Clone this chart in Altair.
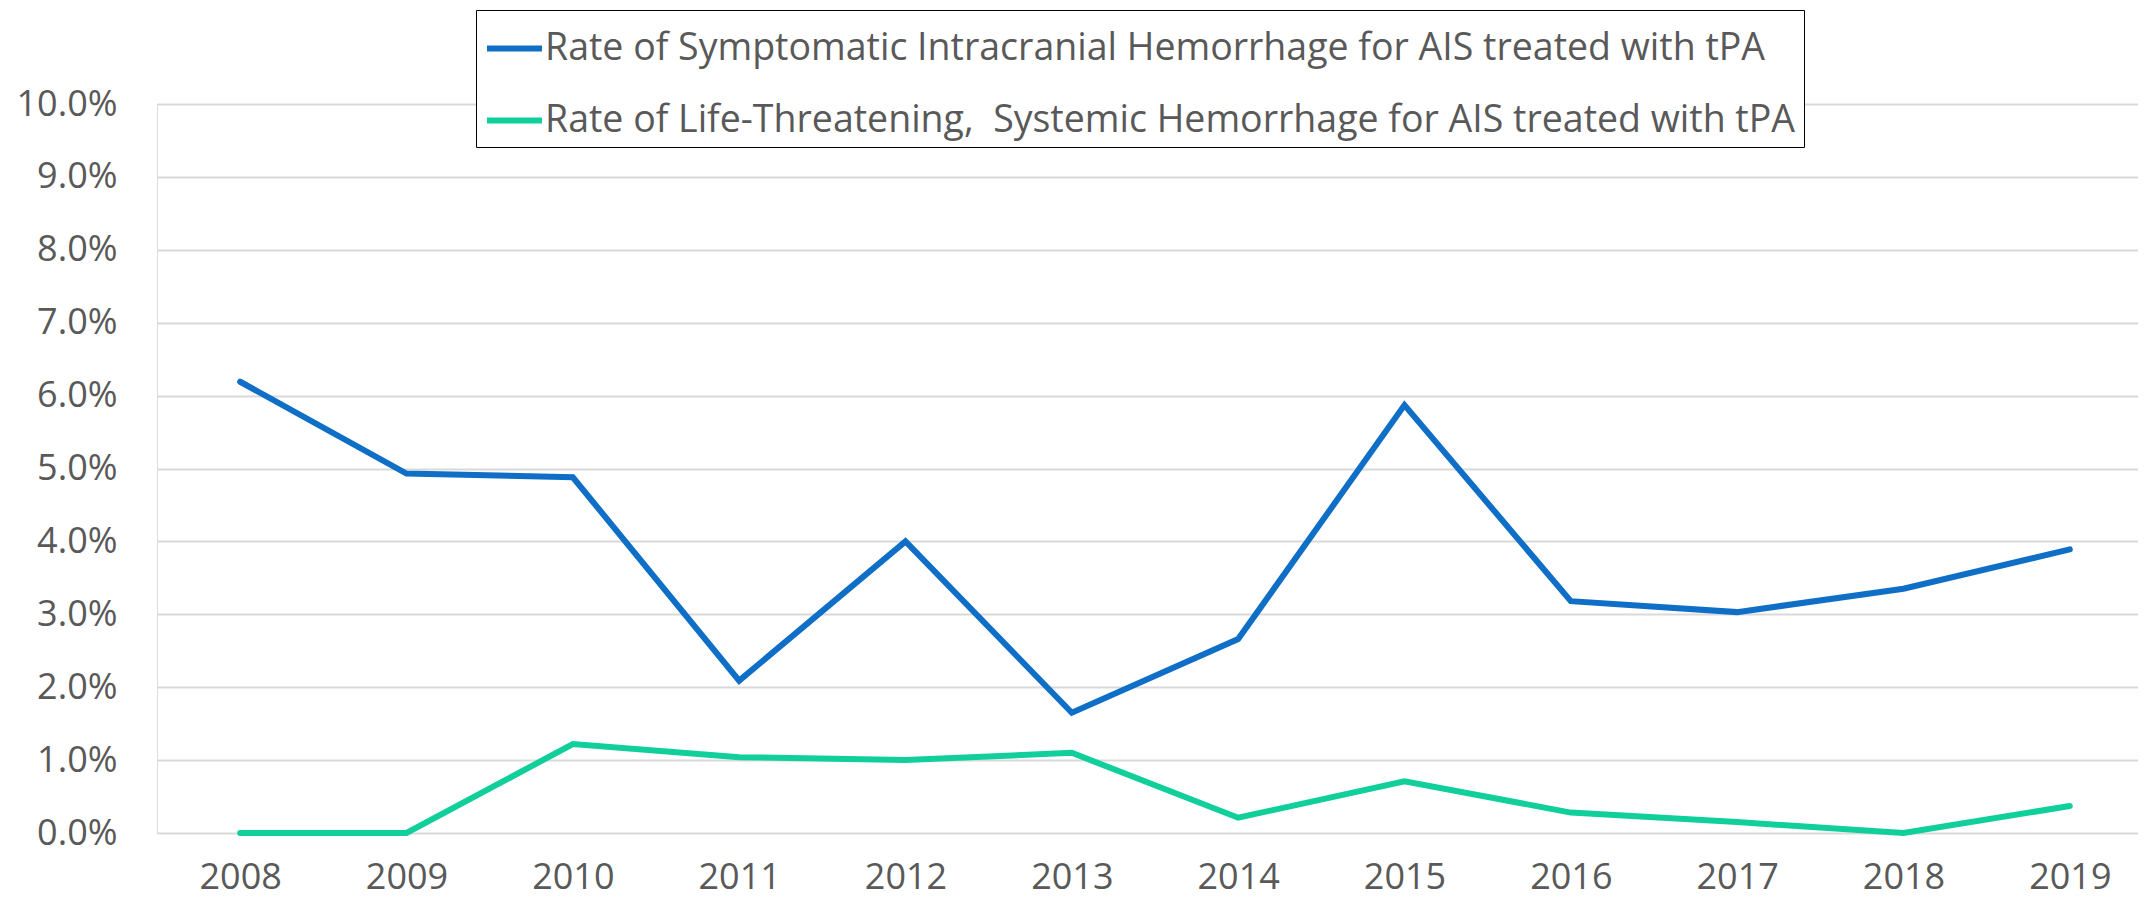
import altair as alt
import pandas as pd

years = list(range(2008, 2020))
series_names = [
    "Rate of Symptomatic Intracranial Hemorrhage for AIS treated with tPA",
    "Rate of Life-Threatening,\u00a0 Systemic Hemorrhage for AIS treated with tPA",
]
sich_pct = [6.19, 4.93, 4.88, 2.09, 4.00, 1.65, 2.66, 5.87, 3.18, 3.03, 3.35, 3.89]
systemic_pct = [0.00, 0.00, 1.22, 1.04, 1.00, 1.10, 0.21, 0.71, 0.28, 0.15, 0.00, 0.37]
colors = ["#0F6FC6", "#10CF9B"]
y_ticks = [i / 100 for i in range(0, 11)]

rows = []
for name, vals in zip(series_names, [sich_pct, systemic_pct]):
    for yr, v in zip(years, vals):
        rows.append({"Year": yr, "Rate": v / 100.0, "Series": name})
df = pd.DataFrame(rows)

FONT = "Open Sans"
TXT = "#595959"

chart = (
    alt.Chart(df)
    .mark_line(strokeWidth=6, strokeCap="round")
    .encode(
        x=alt.X(
            "Year:Q",
            scale=alt.Scale(domain=[2007.5, 2019.41], nice=False, zero=False),
            axis=alt.Axis(
                values=years,
                format="d",
                title=None,
                grid=False,
                domain=False,
                ticks=False,
                labelFont=FONT,
                labelFontSize=36,
                labelColor=TXT,
                labelPadding=27,
                labelFlush=False,
                labelOverlap=False,
            ),
        ),
        y=alt.Y(
            "Rate:Q",
            scale=alt.Scale(domain=[0, 0.1], nice=False),
            axis=alt.Axis(
                values=y_ticks,
                format=".1%",
                title=None,
                grid=True,
                gridColor="#D9D9D9",
                gridWidth=2,
                domain=False,
                ticks=False,
                labelFont=FONT,
                labelFontSize=36,
                labelColor=TXT,
                labelPadding=40,
            ),
        ),
        color=alt.Color(
            "Series:N",
            scale=alt.Scale(domain=series_names, range=colors),
            legend=alt.Legend(
                title=None,
                orient="none",
                legendX=319,
                legendY=-94,
                symbolType="stroke",
                symbolSize=3025,
                symbolStrokeWidth=6,
                labelFont=FONT,
                labelFontSize=37.5,
                labelColor=TXT,
                labelLimit=3000,
                labelOffset=0,
                rowPadding=23,
                padding=8,
                strokeColor="black",
                fillColor="white",
            ),
        ),
        detail="Series:N",
    )
    .properties(
        width=1981,
        height=729,
        autosize=alt.AutoSizeParams(type="none"),
        padding={"left": 149, "top": 96, "right": 0, "bottom": 66},
    )
    .configure_view(stroke=None)
    .configure_legend(strokeWidth=2)
    .configure(background="white")
)

chart.save("out.html", embed_options={"renderer": "svg", "actions": False})
